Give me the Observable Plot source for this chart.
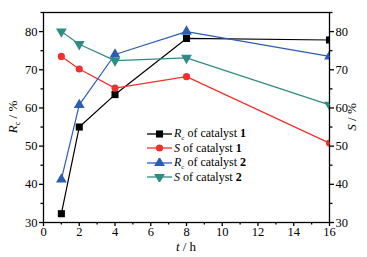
<!DOCTYPE html>
<html><head><meta charset="utf-8">
<script src="https://cdn.jsdelivr.net/npm/d3@7"></script>
<script src="https://cdn.jsdelivr.net/npm/@observablehq/plot@0.6"></script>
<style>
body{margin:0;background:#fff;}
#wrap{position:relative;width:367px;height:257px;font-family:'Liberation Serif',serif;}
#wrap svg text{font-family:'Liberation Serif',serif;}
#legend{position:absolute;left:147px;top:126.5px;font-size:12px;font-family:'Liberation Serif',serif;}
#legend .row{height:14.5px;display:flex;align-items:center;white-space:nowrap;}
#legend svg{margin-right:2px;}
</style></head><body><div id="wrap"></div>
<script>
const times = [1, 2, 4, 8, 16];
const rcCat1 = [32.3, 55.0, 63.5, 78.2, 77.8];
const sCat1 = [73.5, 70.2, 65.2, 68.2, 50.8];
const rcCat2 = [41.3, 60.8, 74.0, 80.0, 73.5];
const sCat2 = [80.0, 76.7, 72.4, 73.1, 60.8];
const seriesNames = ["Rc1", "S1", "Rc2", "S2"];
const seriesColors = ["#000000", "#f0302c", "#2b5db3", "#2f8c85"];
const seriesSymbols = ["square", "circle", "triangle", "triangle"];
const seriesRotate = [0, 0, 0, 180];
const seriesLabels = [["R","c"," of catalyst ","1"],["S",""," of catalyst ","1"],["R","c"," of catalyst ","2"],["S",""," of catalyst ","2"]];
const xTicks = [0, 2, 4, 6, 8, 10, 12, 14, 16];
const xMinor = [1, 3, 5, 7, 9, 11, 13, 15];
const yTicks = [30, 40, 50, 60, 70, 80];
const yMinor = [35, 45, 55, 65, 75, 85];

const allVals = [rcCat1, sCat1, rcCat2, sCat2];
const data = [];
allVals.forEach((vals, i) => vals.forEach((v, j) => data.push({t: times[j], v, s: i})));

const marks = [Plot.frame({stroke: "#000", strokeWidth: 1.3})];
allVals.forEach((vals, i) => {
  const d = data.filter(e => e.s === i);
  marks.push(Plot.line(d, {x: "t", y: "v", stroke: seriesColors[i], strokeWidth: 1.2}));
});
allVals.forEach((vals, i) => {
  const d = data.filter(e => e.s === i);
  marks.push(Plot.dot(d, {x: "t", y: "v", fill: seriesColors[i], stroke: "none",
    symbol: seriesSymbols[i], rotate: seriesRotate[i], r: seriesSymbols[i] === "circle" ? 3.6 : 4.0, clip: true}));
});
marks.push(
  Plot.axisX(xTicks, {tickSize: 4, tickPadding: 1, fontSize: 12.5, label: null, stroke: "#000", strokeWidth: 1.3}),
  Plot.axisX(xMinor, {tickSize: 2.5, text: null, label: null, strokeWidth: 1.3}),
  Plot.axisY(yTicks, {anchor: "left", tickSize: 4, tickPadding: 2, fontSize: 12.5, label: null, strokeWidth: 1.3}),
  Plot.axisY(yMinor, {anchor: "left", tickSize: 2.5, text: null, label: null, strokeWidth: 1.3}),
  Plot.axisY(yTicks, {anchor: "right", tickSize: 4, tickPadding: 2, fontSize: 12.5, label: null, strokeWidth: 1.3}),
  Plot.axisY(yMinor, {anchor: "right", tickSize: 2.5, text: null, label: null, strokeWidth: 1.3})
);

const chart = Plot.plot({
  width: 367, height: 257,
  marginLeft: 43, marginRight: 38, marginTop: 12, marginBottom: 35,
  style: {fontFamily: "'Liberation Serif',serif", background: "#fff", color: "#000"},
  x: {domain: [0, 16]},
  y: {domain: [30, 85]},
  marks
});
const wrap = document.getElementById("wrap");
wrap.appendChild(chart);

const svg = d3.select(chart);
// axis titles
const lt = svg.append("text").attr("transform", "translate(17,117) rotate(-90)")
  .attr("text-anchor", "middle").attr("font-size", 13).attr("fill", "#000");
lt.append("tspan").attr("font-style", "italic").text("R");
lt.append("tspan").attr("font-size", 8).attr("dy", 3).text("c");
lt.append("tspan").attr("dy", -3).text(" / %");
const rt = svg.append("text").attr("transform", "translate(356,117) rotate(-90)")
  .attr("text-anchor", "middle").attr("font-size", 13).attr("fill", "#000");
rt.append("tspan").attr("font-style", "italic").text("S");
rt.append("tspan").text(" / %");
const bt = svg.append("text").attr("x", 186).attr("y", 251)
  .attr("text-anchor", "middle").attr("font-size", 13).attr("fill", "#000");
bt.append("tspan").attr("font-style", "italic").text("t");
bt.append("tspan").text(" / h");

// legend
const leg = document.createElement("div");
leg.id = "legend";
wrap.appendChild(leg);
seriesNames.forEach((n, i) => {
  const row = document.createElement("div");
  row.className = "row";
  const s = d3.create("svg").attr("width", 25).attr("height", 10);
  s.append("line").attr("x1", 0).attr("x2", 25).attr("y1", 5).attr("y2", 5).attr("stroke", seriesColors[i]).attr("stroke-width", 1.3);
  const symMap = {square: d3.symbolSquare, circle: d3.symbolCircle, triangle: d3.symbolTriangle};
  const r = seriesSymbols[i] === "circle" ? 3.6 : 4.0;
  s.append("path").attr("d", d3.symbol(symMap[seriesSymbols[i]], Math.PI * r * r)())
    .attr("transform", `translate(12.5,5) rotate(${seriesRotate[i]})`).attr("fill", seriesColors[i]);
  row.appendChild(s.node());
  const txt = document.createElement("span");
  const lab = seriesLabels[i];
  txt.innerHTML = `<i>${lab[0]}</i>` + (lab[1] ? `<sub style="font-size:7px">${lab[1]}</sub>` : "") + lab[2] + `<b>${lab[3]}</b>`;
  row.appendChild(txt);
  leg.appendChild(row);
});
</script></body></html>
